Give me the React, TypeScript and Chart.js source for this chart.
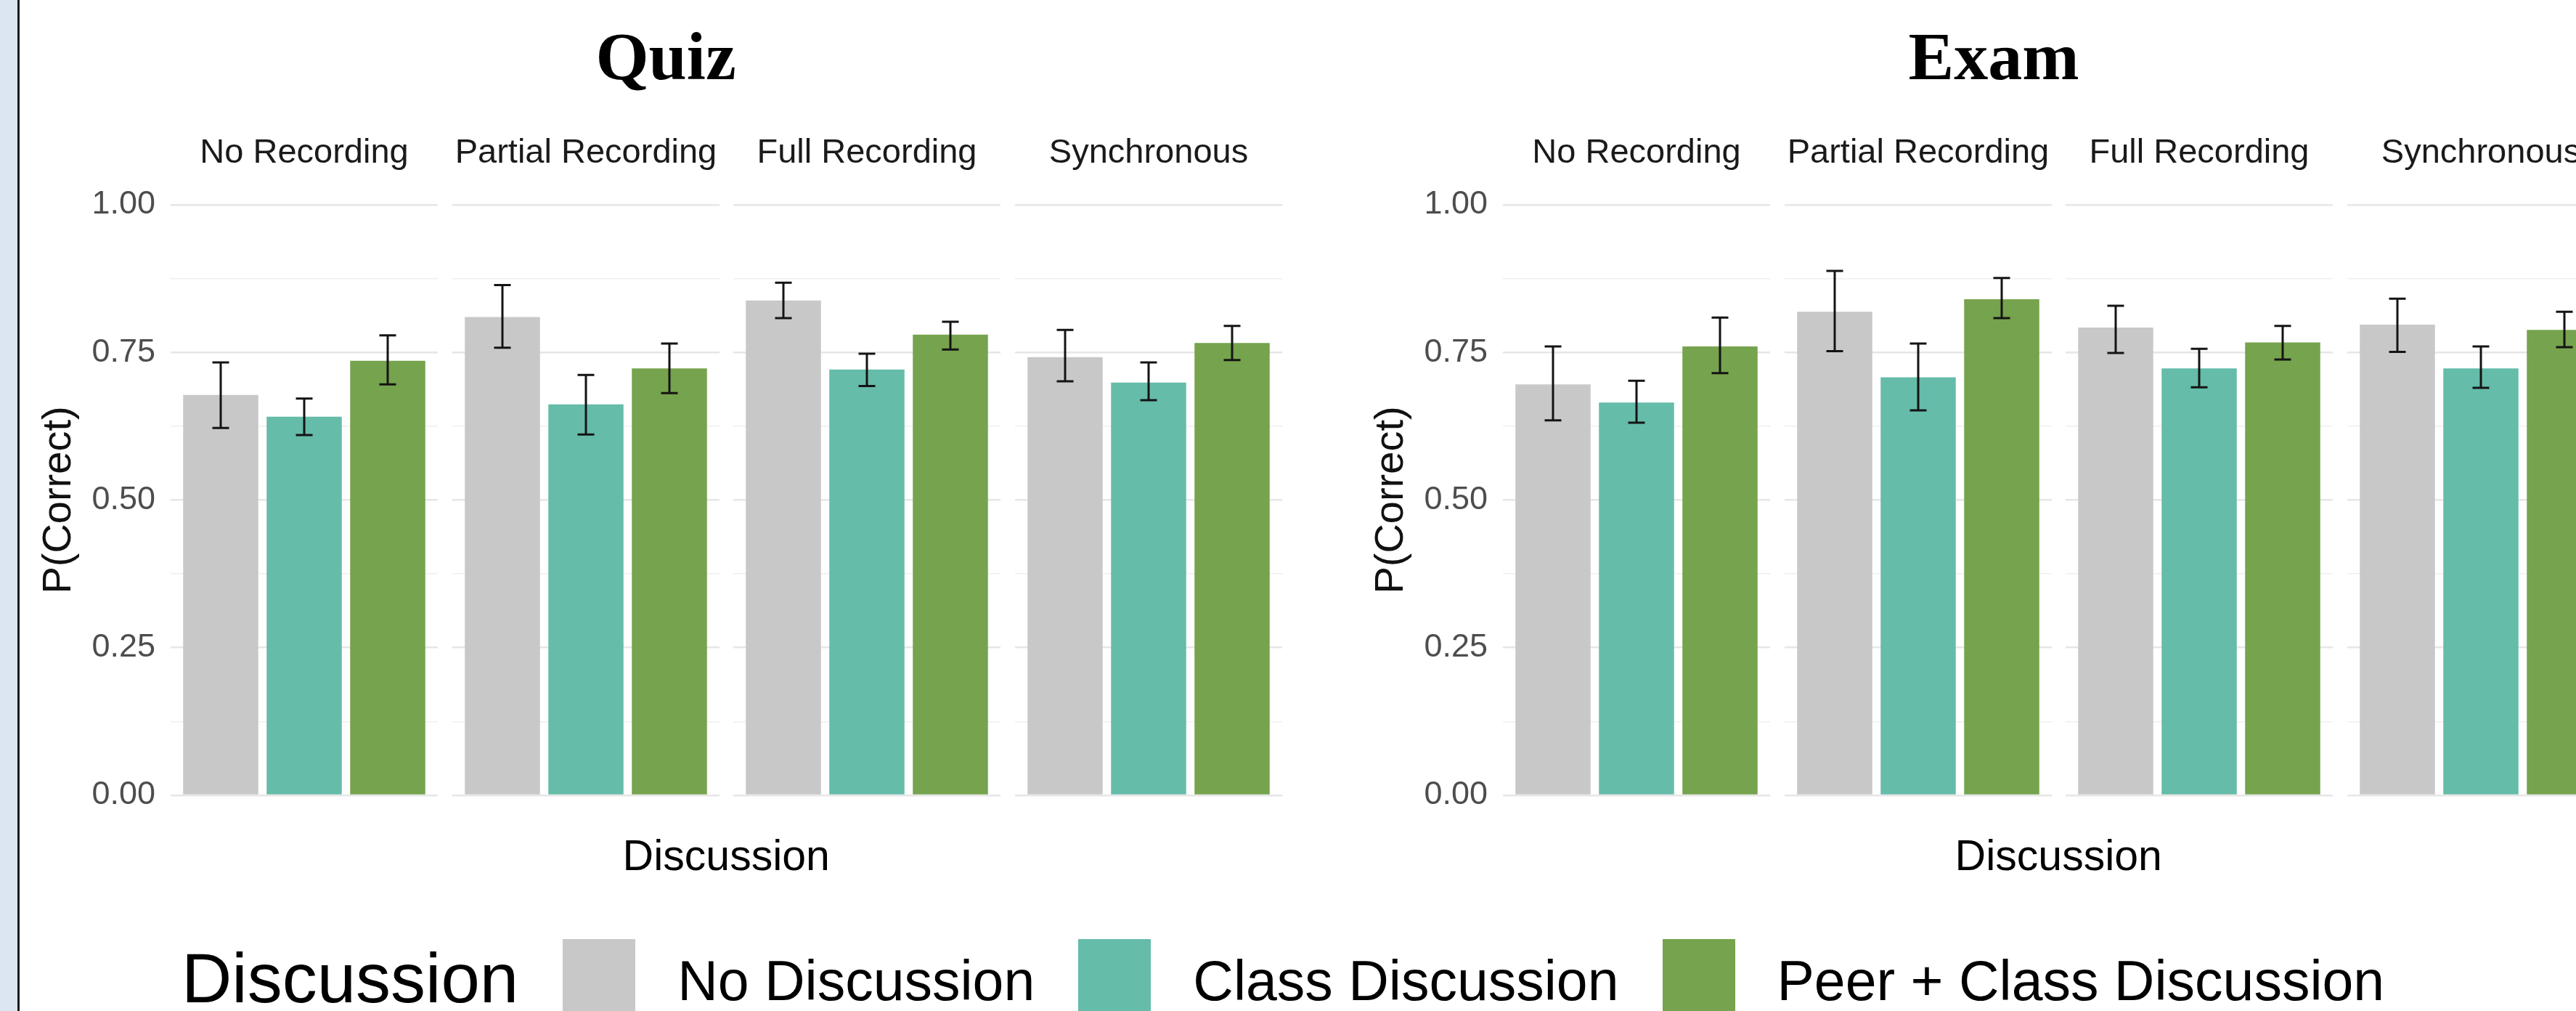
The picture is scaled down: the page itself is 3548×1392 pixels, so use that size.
import React, { useEffect, useRef } from 'react';
import { Chart, registerables } from 'chart.js';

Chart.register(...registerables);

// ---------------- data ----------------
const facetLabels = ['No Recording', 'Partial Recording', 'Full Recording', 'Synchronous'];
const discussionLabels = ['No Discussion', 'Class Discussion', 'Peer + Class Discussion'];
const yTickValues = [0, 0.25, 0.5, 0.75, 1];
const yAxisTitle = 'P(Correct)';
const xAxisTitle = 'Discussion';
const legendTitle = 'Discussion';
const chartTitles = ['Quiz', 'Exam'];

// Quiz (values per facet: No Recording, Partial, Full, Synchronous)
const quizNoDiscussion = [0.678, 0.81, 0.838, 0.742];
const quizNoDiscussionLow = [0.622, 0.758, 0.808, 0.701];
const quizNoDiscussionHigh = [0.733, 0.864, 0.868, 0.788];
const quizClassDiscussion = [0.641, 0.662, 0.721, 0.699];
const quizClassDiscussionLow = [0.61, 0.611, 0.693, 0.669];
const quizClassDiscussionHigh = [0.672, 0.712, 0.748, 0.733];
const quizPeerClassDiscussion = [0.736, 0.723, 0.78, 0.766];
const quizPeerClassDiscussionLow = [0.696, 0.681, 0.755, 0.737];
const quizPeerClassDiscussionHigh = [0.779, 0.765, 0.802, 0.795];

// Exam
const examNoDiscussion = [0.696, 0.819, 0.792, 0.797];
const examNoDiscussionLow = [0.635, 0.752, 0.749, 0.751];
const examNoDiscussionHigh = [0.76, 0.888, 0.829, 0.841];
const examClassDiscussion = [0.665, 0.708, 0.723, 0.723];
const examClassDiscussionLow = [0.631, 0.652, 0.691, 0.69];
const examClassDiscussionHigh = [0.702, 0.765, 0.756, 0.76];
const examPeerClassDiscussion = [0.76, 0.84, 0.767, 0.788];
const examPeerClassDiscussionLow = [0.715, 0.808, 0.738, 0.759];
const examPeerClassDiscussionHigh = [0.809, 0.876, 0.795, 0.819];

// ---------------- styles ----------------
const BAR_COLORS = ['#C8C8C8', '#65BCA9', '#76A34D'];
const SANS = '"Liberation Sans", Arial, Helvetica, sans-serif';
const SERIF = '"Liberation Serif", "Times New Roman", serif';

const PANEL_TOP = 282;
const PANEL_BOTTOM = 1095;
const PAD = 60;
const PANEL_W = 368;
const PANEL_PITCH = 387.5;
const CHART_OFFSETS = [235, 2070];
const AXIS_CANVAS_LEFT = 30;

const errorBarPlugin = {
  id: 'errorBars',
  afterDatasetsDraw(chart: any) {
    const { ctx } = chart;
    const yScale = chart.scales.y;
    chart.data.datasets.forEach((ds: any, di: number) => {
      const meta = chart.getDatasetMeta(di);
      meta.data.forEach((bar: any, i: number) => {
        const lo = ds.errLow[i];
        const hi = ds.errHigh[i];
        const yLo = yScale.getPixelForValue(lo);
        const yHi = yScale.getPixelForValue(hi);
        const half = (bar.width * (0.2 / 0.9)) / 2;
        ctx.save();
        ctx.strokeStyle = '#141414';
        ctx.lineWidth = 3;
        ctx.lineCap = 'butt';
        ctx.beginPath();
        ctx.moveTo(bar.x, yLo);
        ctx.lineTo(bar.x, yHi);
        ctx.moveTo(bar.x - half, yLo);
        ctx.lineTo(bar.x + half, yLo);
        ctx.moveTo(bar.x - half, yHi);
        ctx.lineTo(bar.x + half, yHi);
        ctx.stroke();
        ctx.restore();
      });
    });
  },
};

const isMajor = (v: number) => yTickValues.some((t) => Math.abs(t - v) < 1e-9);

type PanelProps = {
  left: number;
  width: number;
  axisWidth: number;
  showAxis: boolean;
  values: number[];
  lows: number[];
  highs: number[];
};

function Panel({ left, width, axisWidth, showAxis, values, lows, highs }: PanelProps) {
  const ref = useRef<HTMLCanvasElement | null>(null);
  const height = PANEL_BOTTOM - PANEL_TOP + 2 * PAD;
  useEffect(() => {
    if (!ref.current) return;
    const chart = new Chart(ref.current, {
      type: 'bar',
      data: {
        datasets: [
          {
            label: 'P(Correct)',
            data: values.map((v, j) => ({ x: j + 1, y: v })),
            backgroundColor: BAR_COLORS,
            borderWidth: 0,
            categoryPercentage: 0.9,
            barPercentage: 1,
            errLow: lows,
            errHigh: highs,
          } as any,
        ],
      },
      options: {
        animation: false,
        responsive: false,
        maintainAspectRatio: false,
        devicePixelRatio: 1,
        layout: { padding: { top: PAD, bottom: PAD, left: 0, right: 0 } },
        plugins: {
          legend: { display: false },
          tooltip: { enabled: false },
          title: { display: false },
        },
        scales: {
          x: {
            type: 'linear',
            min: 0.4,
            max: 3.6,
            offset: false,
            display: false,
            afterBuildTicks: (s: any) => {
              s.ticks = discussionLabels.map((_, j) => ({ value: j + 1 }));
            },
          },
          y: {
            min: 0,
            max: 1,
            ticks: {
              display: showAxis,
              stepSize: 0.125,
              autoSkip: false,
              padding: 21,
              color: '#4D4D4D',
              font: { family: SANS, size: 45 },
              callback: (v: any) => (isMajor(Number(v)) ? Number(v).toFixed(2) : ''),
            },
            grid: {
              drawTicks: false,
              color: (c: any) => (isMajor(c.tick.value) ? '#E6E6E6' : '#EFEFEF'),
              lineWidth: (c: any) => (isMajor(c.tick.value) ? 2.6 : 1.6),
            },
            border: { display: false },
            title: {
              display: showAxis,
              text: yAxisTitle,
              color: '#111111',
              font: { family: SANS, size: 56, lineHeight: 1 },
              padding: { top: 24, bottom: 0 },
            },
            afterFit: (s: any) => {
              s.width = axisWidth;
            },
          },
        },
      } as any,
      plugins: [errorBarPlugin],
    });
    return () => chart.destroy();
  }, []);
  return (
    <canvas
      ref={ref}
      width={width}
      height={height}
      style={{ position: 'absolute', left, top: PANEL_TOP - PAD, width, height }}
    />
  );
}

function Txt({ x, baseline, size, family = SANS, weight = 400, color = '#000', align = 'center', children }: any) {
  const asc = family === SERIF ? 0.8375 : 0.8465;
  const style: any = {
    position: 'absolute',
    top: baseline - asc * size,
    fontFamily: family,
    fontSize: size,
    fontWeight: weight,
    lineHeight: `${size}px`,
    color,
    whiteSpace: 'nowrap',
  };
  if (align === 'center') {
    style.left = x - 1500;
    style.width = 3000;
    style.textAlign = 'center';
  } else {
    style.left = x;
  }
  return <div style={style}>{children}</div>;
}

const chartSeries = [
  {
    mean: [quizNoDiscussion, quizClassDiscussion, quizPeerClassDiscussion],
    low: [quizNoDiscussionLow, quizClassDiscussionLow, quizPeerClassDiscussionLow],
    high: [quizNoDiscussionHigh, quizClassDiscussionHigh, quizPeerClassDiscussionHigh],
  },
  {
    mean: [examNoDiscussion, examClassDiscussion, examPeerClassDiscussion],
    low: [examNoDiscussionLow, examClassDiscussionLow, examPeerClassDiscussionLow],
    high: [examNoDiscussionHigh, examClassDiscussionHigh, examPeerClassDiscussionHigh],
  },
];

const TITLE_CENTERS = [917, 2746];

export default function App() {
  const panels: any[] = [];
  const texts: any[] = [];
  CHART_OFFSETS.forEach((base, c) => {
    const series = chartSeries[c];
    facetLabels.forEach((facet, f) => {
      const panelLeft = Math.round(base + f * PANEL_PITCH);
      const first = f === 0;
      const canvasLeft = first ? base - (CHART_OFFSETS[0] - AXIS_CANVAS_LEFT) : panelLeft;
      const axisWidth = first ? panelLeft - canvasLeft : 0;
      panels.push(
        <Panel
          key={`p-${c}-${f}`}
          left={canvasLeft}
          width={axisWidth + PANEL_W}
          axisWidth={axisWidth}
          showAxis={first}
          values={series.mean.map((arr) => arr[f])}
          lows={series.low.map((arr) => arr[f])}
          highs={series.high.map((arr) => arr[f])}
        />
      );
      texts.push(
        <Txt key={`s-${c}-${f}`} x={panelLeft + PANEL_W / 2} baseline={224} size={47} color="#1A1A1A">
          {facet}
        </Txt>
      );
    });
    const mid = base + (3 * PANEL_PITCH + PANEL_W) / 2;
    texts.push(
      <Txt key={`xt-${c}`} x={mid} baseline={1199} size={59} color="#000">
        {xAxisTitle}
      </Txt>
    );
    texts.push(
      <Txt key={`t-${c}`} x={TITLE_CENTERS[c]} baseline={109} size={94} family={SERIF} weight={700} color="#000">
        {chartTitles[c]}
      </Txt>
    );
  });

  return (
    <div
      style={{
        position: 'fixed',
        left: 0,
        top: 0,
        width: 3548,
        height: 1392,
        overflow: 'hidden',
        background: '#FFFFFF',
      }}
    >
      <div style={{ position: 'absolute', left: 0, top: 0, width: 24, height: 1392, background: '#DCE6F2' }} />
      <div style={{ position: 'absolute', left: 24, top: 0, width: 3, height: 1392, background: '#1C1C1C' }} />
      {panels}
      {texts}
      <div
        style={{
          position: 'absolute',
          left: 250,
          top: 1293,
          display: 'flex',
          alignItems: 'flex-start',
          whiteSpace: 'nowrap',
          fontFamily: SANS,
          color: '#000',
        }}
      >
        <div style={{ fontSize: 96, lineHeight: '96px', marginTop: 1380 - 1293 - 0.8465 * 96, marginRight: 61 }}>
          {legendTitle}
        </div>
        {discussionLabels.map((lab, j) => (
          <React.Fragment key={lab}>
            <div style={{ width: 100, height: 100, background: BAR_COLORS[j], marginRight: 58, flex: 'none' }} />
            <div
              style={{
                fontSize: 77,
                lineHeight: '77px',
                marginTop: 1377 - 1293 - 0.8465 * 77,
                marginRight: 60,
              }}
            >
              {lab}
            </div>
          </React.Fragment>
        ))}
      </div>
    </div>
  );
}
